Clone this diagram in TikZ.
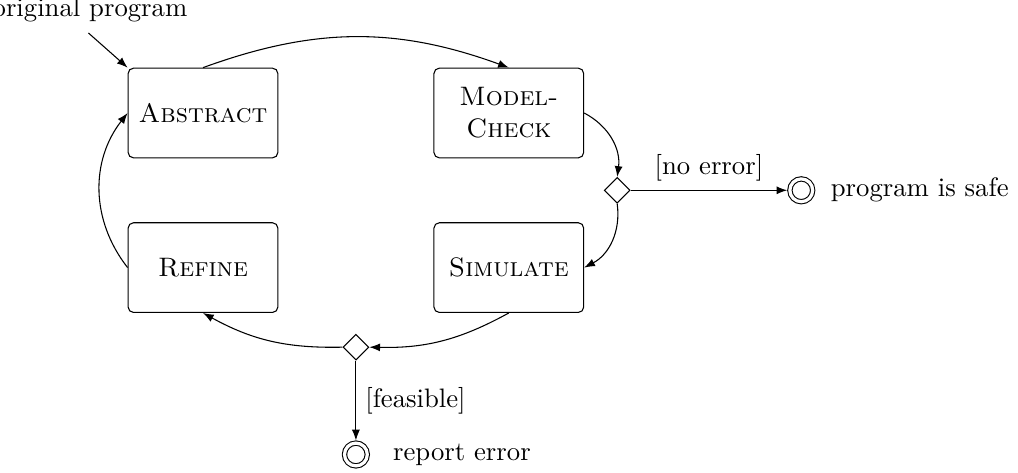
\documentclass[tikz,border=0pt]{standalone}
\usepackage{tikz}
\usetikzlibrary{positioning,calc,shapes.geometric,arrows.meta,shadows}

\begin{document}
\begin{tikzpicture}[
    >={Latex[length=4pt,width=3pt]},
    state/.style={rectangle, rounded corners=2pt, draw, minimum width=1.97cm, minimum height=1.18cm, align=center, font=\scshape},
    choice/.style={diamond, draw, minimum size=0.34cm, inner sep=0pt},
    final/.style={circle, draw, fill=white, double, double distance=1.2pt, minimum size=0.3cm, inner sep=0pt, outer sep=1pt,
        drop shadow={shadow xshift=0.5pt, shadow yshift=-0.5pt, opacity=0.9, fill=black}},
    arrow/.style={->}
]

\useasboundingbox (0,0) rectangle (13.395,-6.211);

% Loop states
\node[state] (abstract) at (2.671,-1.487) {Abstract};
\node[state, right=2.04cm of abstract] (check) {Model-\\Check};
\node[state, below=0.84cm of abstract] (refine) {Refine};
\node[state, below=0.84cm of check] (simulate) {Simulate};

% Decisions
\node[choice] (safechoice) at ($(check.east)!0.5!(simulate.east)+(0.434,0)$) {};
\node[choice] (errchoice) at ($(refine.south)!0.5!(simulate.south)+(0,-0.45)$) {};

% End states
\node[final, right=2.06cm of safechoice] (safe) {};
\node[final, below=1.05cm of errchoice] (error) {};
\node[right=0.08cm of safe] (safetext) {program is safe};
\node[right=0.18cm of error] (errtext) {report error};

% Input
\node (input) at (1.184,-0.132) {original program};

% Transitions
\draw[arrow] (input.south) ++(-0.02,-0.02) coordinate (instart) (instart) -- (abstract.north west);
\draw[arrow] (abstract.north) to[bend left=20] (check.north);
\draw[arrow] (check.east) to[bend left=35] (safechoice.north);
\draw[arrow] (safechoice.south) to[bend left=35] (simulate.east);
\draw[arrow] (simulate.south) to[bend left=15] (errchoice.east);
\draw[arrow] (errchoice.west) to[bend left=15] (refine.south);
\draw[arrow] (refine.west) to[bend left=38] (abstract.west);
\draw[arrow] (safechoice) -- node[above] {[no error]} (safe);
\draw[arrow] (errchoice) -- node[right] {[feasible]} (error);

\end{tikzpicture}
\end{document}
